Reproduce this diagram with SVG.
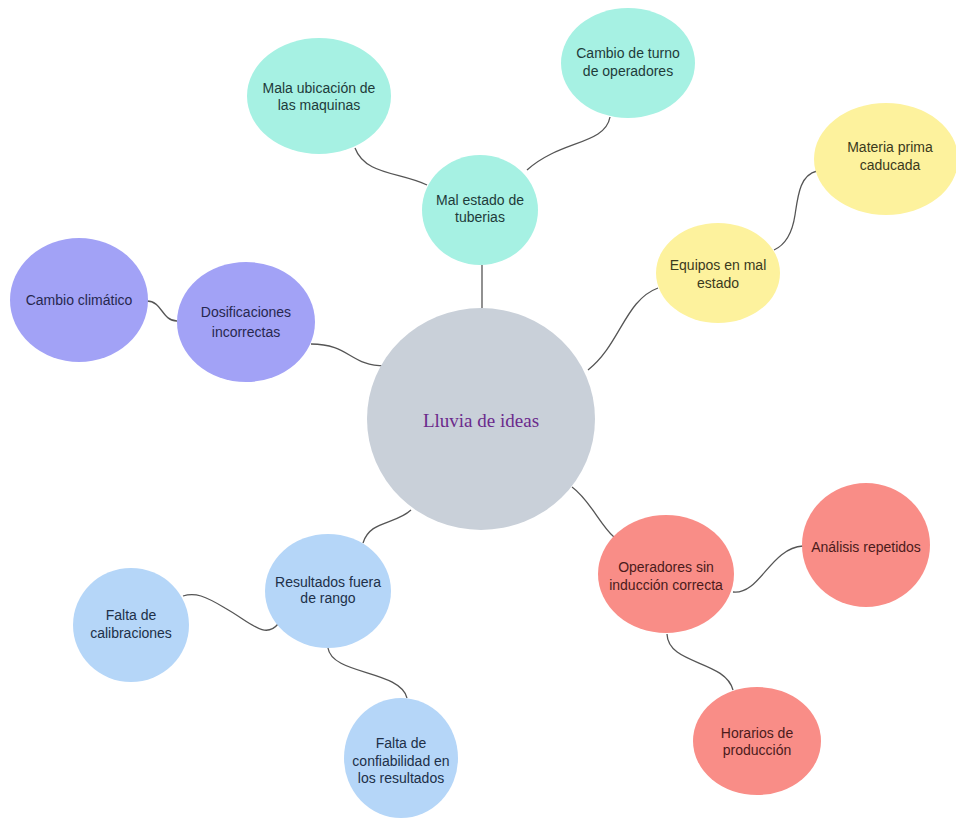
<svg xmlns="http://www.w3.org/2000/svg" width="956" height="823" viewBox="0 0 956 823">
<style>
.t{font-family:"Liberation Sans",Arial,sans-serif;font-size:14px;text-anchor:middle}
.teal{fill:#a6f1e3}.tealT{fill:#1e3b3a}
.purp{fill:#a2a2f6}.purpT{fill:#27284f}
.yel{fill:#fdf29d}.yelT{fill:#3b3a1c}
.red{fill:#f98d87}.redT{fill:#4b1b1b}
.blue{fill:#b5d6f8}.blueT{fill:#203048}
.conn path{fill:none;stroke:#555;stroke-width:1.3}
</style>
<rect width="956" height="823" fill="#fff"/>
<g class="conn" id="connectors">
<path d="M482,265 L482,308"/>
<path d="M355,148 C365,175 400,172 427,185"/>
<path d="M610,117 C605,145 560,140 527,170"/>
<path d="M147,301 C162,301 162,321 177,321"/>
<path d="M311,344 C350,344 350,366 385,366"/>
<path d="M817,171 C800,175 798,195 795,215 C792,235 785,245 774,250"/>
<path d="M658,288 C625,300 620,345 588,370"/>
<path d="M572,487 C590,500 600,525 614,537"/>
<path d="M733,592 C760,595 770,548 803,546"/>
<path d="M667,634 C668,665 725,660 733,690"/>
<path d="M411,510 C395,525 370,520 363,543"/>
<path d="M278,624 C265,640 250,622 225,608 C205,596 195,592 183,596"/>
<path d="M328,648 C332,675 400,670 407,698"/>
</g>
<g id="center">
<ellipse cx="481" cy="419" rx="114" ry="111" fill="#c9d0d9"/>
<text x="481" y="427" font-family="'Liberation Serif','DejaVu Serif',serif" font-size="19" fill="#6b2a8c" text-anchor="middle">Lluvia de ideas</text>
</g>
<g id="mal-estado">
<ellipse class="teal" cx="480" cy="210" rx="58" ry="55"/>
<text class="t tealT" x="480" y="205">Mal estado de</text>
<text class="t tealT" x="480" y="222">tuberias</text>
</g>
<g id="mala-ubicacion">
<ellipse class="teal" cx="319" cy="96" rx="72" ry="58"/>
<text class="t tealT" x="319" y="93">Mala ubicación de</text>
<text class="t tealT" x="319" y="110">las maquinas</text>
</g>
<g id="cambio-turno">
<ellipse class="teal" cx="628" cy="63" rx="67" ry="55"/>
<text class="t tealT" x="628" y="58">Cambio de turno</text>
<text class="t tealT" x="628" y="76">de operadores</text>
</g>
<g id="dosificaciones">
<ellipse class="purp" cx="246" cy="322" rx="69" ry="60"/>
<text class="t purpT" x="246" y="317">Dosificaciones</text>
<text class="t purpT" x="246" y="337">incorrectas</text>
</g>
<g id="cambio-climatico">
<ellipse class="purp" cx="79" cy="300" rx="69" ry="62"/>
<text class="t purpT" x="79" y="305">Cambio climático</text>
</g>
<g id="equipos">
<ellipse class="yel" cx="718" cy="273" rx="62" ry="50"/>
<text class="t yelT" x="718" y="270">Equipos en mal</text>
<text class="t yelT" x="718" y="288">estado</text>
</g>
<g id="materia">
<ellipse class="yel" cx="886" cy="159" rx="72" ry="56"/>
<text class="t yelT" x="890" y="152">Materia prima</text>
<text class="t yelT" x="890" y="170">caducada</text>
</g>
<g id="operadores">
<ellipse class="red" cx="666" cy="574" rx="68" ry="59"/>
<text class="t redT" x="666" y="572">Operadores sin</text>
<text class="t redT" x="666" y="590">inducción correcta</text>
</g>
<g id="analisis">
<ellipse class="red" cx="866" cy="545" rx="64" ry="62"/>
<text class="t redT" x="866" y="552">Análisis repetidos</text>
</g>
<g id="horarios">
<ellipse class="red" cx="757" cy="741" rx="64" ry="54"/>
<text class="t redT" x="757" y="738">Horarios de</text>
<text class="t redT" x="757" y="755">producción</text>
</g>
<g id="resultados">
<ellipse class="blue" cx="328" cy="591" rx="63" ry="57"/>
<text class="t blueT" x="328" y="587">Resultados fuera</text>
<text class="t blueT" x="328" y="603">de rango</text>
</g>
<g id="falta-calibraciones">
<ellipse class="blue" cx="131" cy="625" rx="58" ry="57"/>
<text class="t blueT" x="131" y="620">Falta de</text>
<text class="t blueT" x="131" y="638">calibraciones</text>
</g>
<g id="falta-confiabilidad">
<ellipse class="blue" cx="401" cy="758" rx="57" ry="60"/>
<text class="t blueT" x="401" y="748">Falta de</text>
<text class="t blueT" x="401" y="766">confiabilidad en</text>
<text class="t blueT" x="401" y="783">los resultados</text>
</g>
</svg>
